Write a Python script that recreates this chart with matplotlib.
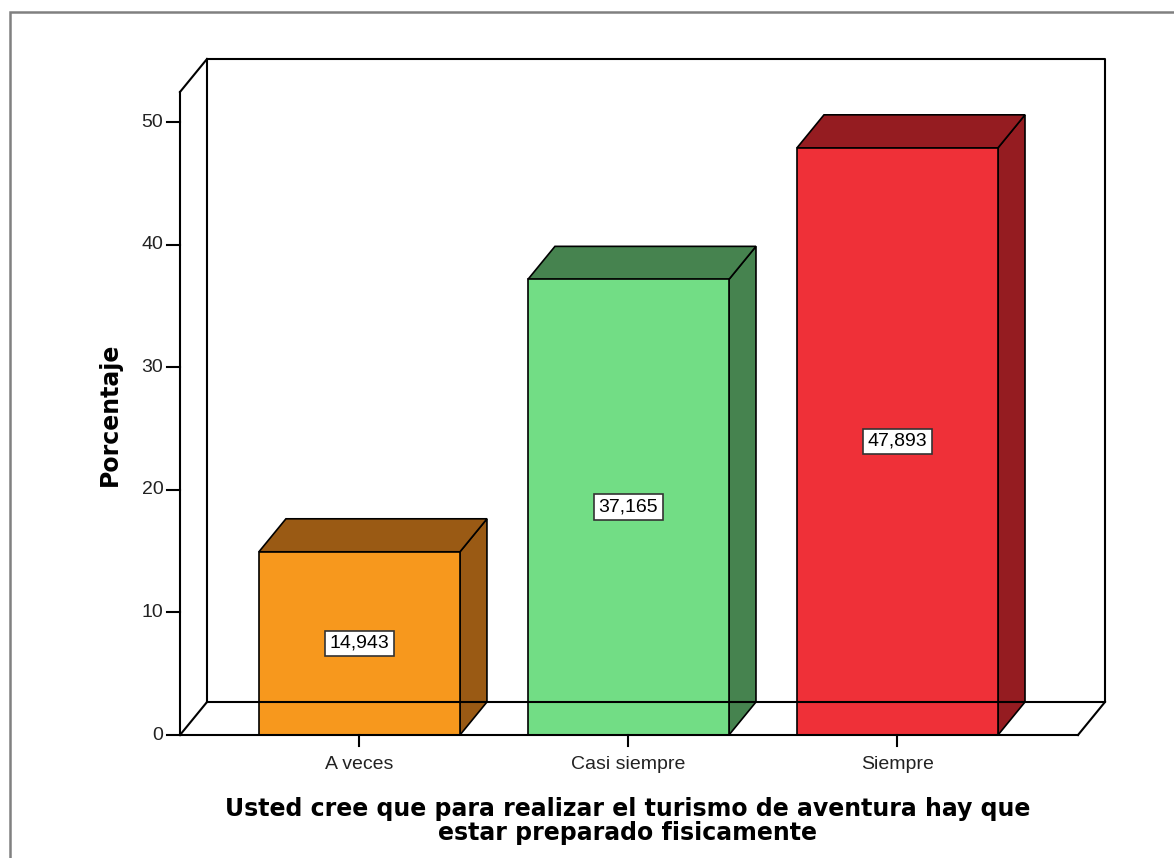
import matplotlib.pyplot as plt
from matplotlib.patches import Polygon, Rectangle

# datos
categorias = ["A veces", "Casi siempre", "Siempre"]
porcentajes = [14.943, 37.165, 47.893]
etiquetas = ["14,943", "37,165", "47,893"]
col_frente = ["#F7981D", "#72DD85", "#EF3038"]
col_lado = ["#9A5A14", "#46834F", "#951C21"]
ticks_y = [0, 10, 20, 30, 40, 50]

W, H = 1174, 858
fig = plt.figure(figsize=(W / 100, H / 100), dpi=100)
fig.patches.append(Rectangle((10 / W, -0.1), 1.2, (858 - 12) / H + 0.1,
                             transform=fig.transFigure, fill=False,
                             edgecolor="#808080", lw=1.8))

# ejes ajustados a pixeles: x 180..1078, y 0 en 735, 50 en 122
ax = fig.add_axes([180 / W, (H - 735) / H, 898 / W, (735 - 122) / H])
x0, x1 = -0.667, 2.671
ax.set_xlim(x0, x1)
ax.set_ylim(0, 50)
ax.axis("off")

dx = 27 / 269          # profundidad en unidades x
dy = 33 / 12.26        # profundidad en unidades y
ytop = 52.45
ancho = 201 / 269

kw = dict(color="black", lw=1.5, clip_on=False, solid_capstyle="projecting")
# pared del fondo
ax.plot([x0 + dx, x1 + dx, x1 + dx, x0 + dx, x0 + dx],
        [dy, dy, ytop + dy, ytop + dy, dy], **kw)
# eje y frontal y diagonales
ax.plot([x0, x0], [0, ytop], **kw)
ax.plot([x0, x0 + dx], [ytop, ytop + dy], **kw)
ax.plot([x0, x0 + dx], [0, dy], **kw)
ax.plot([x0, x1], [0, 0], **kw)
ax.plot([x1, x1 + dx], [0, dy], **kw)

# ticks y
for t in ticks_y:
    ax.plot([x0 - 0.048, x0], [t, t], color="black", lw=1.5, clip_on=False)
    ax.text(x0 - 0.062, t, str(t), ha="right", va="center",
            fontsize=14, family="Liberation Sans", color="#222222")

# barras 3D
for i, (v, cf, cl) in enumerate(zip(porcentajes, col_frente, col_lado)):
    l, r = i - ancho / 2, i + ancho / 2
    top = Polygon([(l, v), (r, v), (r + dx, v + dy), (l + dx, v + dy)],
                  closed=True, facecolor=cl, edgecolor="black", lw=1.2, clip_on=False)
    side = Polygon([(r, 0), (r + dx, dy), (r + dx, v + dy), (r, v)],
                   closed=True, facecolor=cl, edgecolor="black", lw=1.2, clip_on=False)
    front = Rectangle((l, 0), ancho, v, facecolor=cf, edgecolor="black",
                      lw=1.2, clip_on=False)
    ax.add_patch(side)
    ax.add_patch(top)
    ax.add_patch(front)
    ax.text(i, v / 2, etiquetas[i], ha="center", va="center", fontsize=14,
            family="Liberation Sans", color="black",
            bbox=dict(boxstyle="square,pad=0.22", facecolor="white",
                      edgecolor="#333333", lw=1.2))
    # tick x
    ax.plot([i, i], [0, -0.9], color="black", lw=1.5, clip_on=False)
    ax.text(i, -1.7, categorias[i], ha="center", va="top", fontsize=14,
            family="Liberation Sans", color="#222222")

fig.text(110 / W, 1 - 414 / H, "Porcentaje", rotation=90, ha="center",
         va="center", fontsize=17, fontweight="bold", family="DejaVu Sans")
fig.text(628 / W, 1 - 821 / H,
         "Usted cree que para realizar el turismo de aventura hay que\nestar preparado fisicamente",
         ha="center", va="center", fontsize=17, fontweight="bold",
         family="DejaVu Sans", linespacing=0.98)

fig.savefig("out.png", dpi=100)
